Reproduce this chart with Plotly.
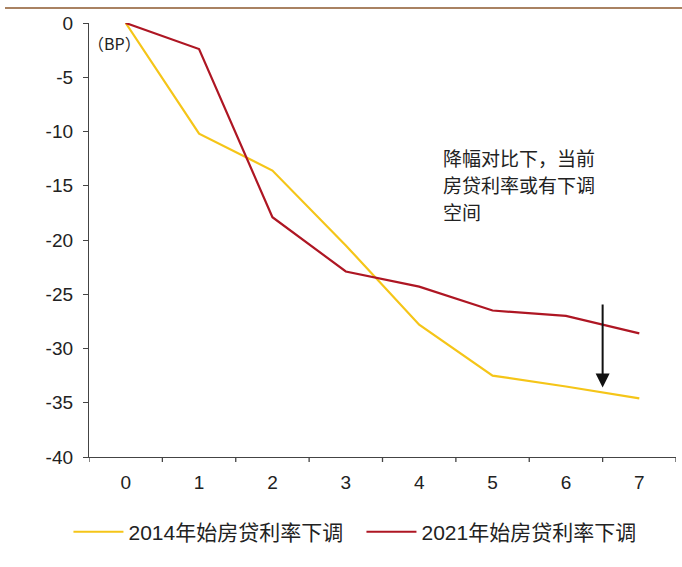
import plotly.graph_objects as go

periods = [0, 1, 2, 3, 4, 5, 6, 7]
cut_2014 = [0, -10.2, -13.6, -20.5, -27.8, -32.5, -33.5, -34.6]
cut_2021 = [0, -2.4, -17.9, -22.9, -24.3, -26.5, -27.0, -28.6]
name_2014 = "2014年始房贷利率下调"
name_2021 = "2021年始房贷利率下调"
y_ticks = [0, -5, -10, -15, -20, -25, -30, -35, -40]
y_tick_labels = ["0", "-5", "-10", "-15", "-20", "-25", "-30", "-35", "-40"]
note_lines = ["降幅对比下，当前", "房贷利率或有下调", "空间"]
unit_label = "（BP）"

FONT = "Liberation Sans, Arial, Noto Sans CJK SC"
CJK = "Noto Sans CJK SC, Liberation Sans"

fig = go.Figure()
fig.add_trace(go.Scatter(x=periods, y=cut_2014, mode="lines", name=name_2014,
                         line=dict(color="#F5C518", width=2.2)))
fig.add_trace(go.Scatter(x=periods, y=cut_2021, mode="lines", name=name_2021,
                         line=dict(color="#AE1623", width=2.2)))

W, H = 682, 567
ml, mr, mt, mb = 89, 6, 23, 110
pw, ph = W - ml - mr, H - mt - mb

fig.update_layout(
    width=W, height=H,
    margin=dict(l=ml, r=mr, t=mt, b=mb, pad=0),
    paper_bgcolor="white", plot_bgcolor="white",
    font=dict(family=FONT, size=19, color="#222222"),
    showlegend=True,
    legend=dict(orientation="h", x=-0.035, xanchor="left", y=-0.173, yanchor="middle",
                font=dict(family=FONT, size=21, color="#222222"),
                itemwidth=50, entrywidth=228,
                tracegroupgap=0, bgcolor="rgba(0,0,0,0)"),
    xaxis=dict(range=[-0.5, 7.5], tickmode="array", tickvals=periods,
               ticktext=[str(p) for p in periods], ticks="", showgrid=False,
               zeroline=False, showline=True, linecolor="#444444", linewidth=1.3,
               tickfont=dict(size=19), ticklabelstandoff=8),
    yaxis=dict(range=[-40, 0], tickmode="array", tickvals=y_ticks, ticktext=y_tick_labels,
               ticks="outside", ticklen=5, tickcolor="#444444", showgrid=False,
               zeroline=False, showline=True, linecolor="#444444", linewidth=1.3,
               tickfont=dict(size=19), ticklabelstandoff=6),
)

# x-axis boundary tick marks (between categories)
for b in [p - 0.5 for p in periods] + [periods[-1] + 0.5]:
    fig.add_shape(type="line", xref="x", yref="paper", x0=b, x1=b, y0=0, y1=-5 / ph,
                  line=dict(color="#444444", width=1.3))

# top rule
fig.add_shape(type="line", xref="paper", yref="paper", x0=-84 / pw, x1=1 + 6 / pw,
              y0=1 + 15 / ph, y1=1 + 15 / ph, line=dict(color="#A98262", width=2))

fig.add_annotation(x=-0.5, y=-1.8, xref="x", yref="y", text=unit_label, showarrow=False,
                   xanchor="left", yanchor="middle", xshift=-3,
                   font=dict(family=CJK, size=16, color="#222222"))

for i, line in enumerate(note_lines):
    fig.add_annotation(x=4.3, y=-12.4 - 2.5 * i, xref="x", yref="y", text=line,
                       showarrow=False, xanchor="left", yanchor="middle",
                       font=dict(family=CJK, size=19, color="#222222"))

fig.add_annotation(x=6.5, y=-33.6, ax=6.5, ay=-25.8, xref="x", yref="y",
                   axref="x", ayref="y", text="", showarrow=True,
                   arrowhead=2, arrowsize=1.4, arrowwidth=2, arrowcolor="#111111")

fig.write_html("out.html", config={"displayModeBar": False},
               post_script="document.body.style.margin='0';")
